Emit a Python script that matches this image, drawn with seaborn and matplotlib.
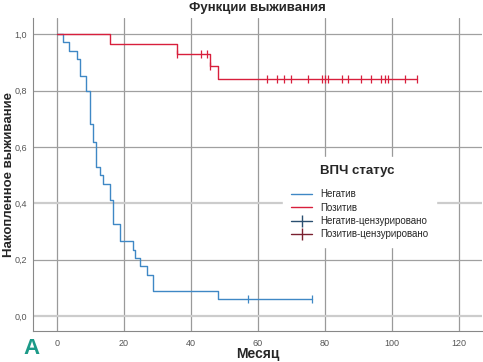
import numpy as np
import pandas as pd
import matplotlib
matplotlib.use('Agg')
import matplotlib.pyplot as plt
import seaborn as sns
from matplotlib.lines import Line2D

# Kaplan-Meier curves
neg_time = [0, 1.8, 3.7, 6.1, 6.9, 8.9, 9.9, 10.9, 11.7, 12.9, 13.9, 15.8, 16.8,
            19.0, 22.8, 23.5, 24.8, 26.9, 28.9, 48.1, 76.1]
neg_surv = [1.0, 0.971, 0.941, 0.912, 0.853, 0.797, 0.680, 0.618, 0.530, 0.501,
            0.470, 0.412, 0.325, 0.265, 0.235, 0.205, 0.176, 0.147, 0.087, 0.059, 0.059]
neg_cens = [57.0, 76.1]

pos_time = [0, 15.9, 35.9, 45.8, 48.1, 107.5]
pos_surv = [1.0, 0.965, 0.930, 0.887, 0.841, 0.841]
pos_cens = [35.9, 43.0, 44.8, 45.8, 62.9, 65.9, 67.9, 69.9, 75.1, 79.1, 80.1, 81.1,
            85.1, 87.0, 91.0, 94.0, 96.9, 98.1, 98.9, 104.1, 107.5]

x_ticks = [0, 20, 40, 60, 80, 100, 120]
y_ticks = [0.0, 0.2, 0.4, 0.6, 0.8, 1.0]
y_labels = ['0,0', '0,2', '0,4', '0,6', '0,8', '1,0']

neg_color = '#3f88c5'
pos_color = '#d81f3c'


def surv_at(times, surv, t):
    idx = np.searchsorted(times, t, side='right') - 1
    return surv[idx]


sns.set_style('white')
plt.rcParams['font.family'] = ['Liberation Sans', 'DejaVu Sans']

fig = plt.figure(figsize=(4.83, 3.62), dpi=100)
ax = fig.add_axes([0.068, 0.086, 0.930, 0.864])

ax.set_xlim(-7.1, 127)
ax.set_ylim(-0.053, 1.057)
ax.set_xticks(x_ticks)
ax.set_yticks(y_ticks)
ax.set_yticklabels(y_labels)
ax.tick_params(length=0, labelsize=6.5, labelcolor='#555555', pad=4)
ax.tick_params(axis='x', pad=6)

for x in x_ticks:
    ax.axvline(x, color='#9a9a9a', lw=0.9, zorder=0)
for y in y_ticks:
    if y in (0.0, 0.4):
        ax.axhline(y, color='#cccccc', lw=1.6, zorder=0)
    else:
        ax.axhline(y, color='#a0a0a0', lw=0.9, zorder=0)

df_neg = pd.DataFrame({'t': neg_time, 's': neg_surv})
df_pos = pd.DataFrame({'t': pos_time, 's': pos_surv})
sns.lineplot(data=df_neg, x='t', y='s', drawstyle='steps-post', color=neg_color,
             lw=1.0, estimator=None, sort=False, ax=ax)
sns.lineplot(data=df_pos, x='t', y='s', drawstyle='steps-post', color=pos_color,
             lw=1.0, estimator=None, sort=False, ax=ax)

cn = pd.DataFrame({'t': neg_cens, 's': [surv_at(neg_time, neg_surv, t) for t in neg_cens]})
cp = pd.DataFrame({'t': pos_cens, 's': [surv_at(pos_time, pos_surv, t) for t in pos_cens]})
sns.scatterplot(data=cn, x='t', y='s', marker='|', s=40, linewidth=0.9, color=neg_color, ax=ax)
sns.scatterplot(data=cp, x='t', y='s', marker='|', s=40, linewidth=0.9, color=pos_color, ax=ax)

for side in ['top', 'right']:
    ax.spines[side].set_visible(False)
for side in ['left', 'bottom']:
    ax.spines[side].set_color('#888888')
    ax.spines[side].set_linewidth(0.8)

ax.set_title('Функции выживания', fontsize=9.5, fontweight='bold', pad=5)
ax.set_xlabel('Месяц', fontsize=10, fontweight='bold')
ax.set_ylabel('Накопленное выживание', fontsize=9.5, fontweight='bold')
ax.xaxis.set_label_coords(0.5, -0.052)
ax.yaxis.set_label_coords(-0.040, 0.5)

handles = [
    Line2D([], [], color=neg_color, lw=1),
    Line2D([], [], color=pos_color, lw=1),
    Line2D([], [], color='#2a4f70', lw=1, marker='|', markersize=9, markevery=[1],
           markeredgewidth=1),
    Line2D([], [], color='#7a2030', lw=1, marker='|', markersize=9, markevery=[1],
           markeredgewidth=1),
]
leg = ax.legend(handles, ['Негатив', 'Позитив', 'Негатив-цензурировано', 'Позитив-цензурировано'],
                title='        ВПЧ статус', loc='upper left', bbox_to_anchor=(0.557, 0.556),
                borderaxespad=0, fontsize=7, title_fontsize=9.5, frameon=True,
                handlelength=2.2, handletextpad=0.8, labelspacing=0.35, borderpad=0.8)
leg.get_frame().set_edgecolor('white')
leg.get_frame().set_facecolor('white')
leg.get_frame().set_alpha(1)
leg.get_title().set_fontweight('bold')
leg._legend_box.align = 'left'
leg._legend_box.sep = 9

fig.text(0.066, 0.038, 'A', fontsize=16, fontweight='bold', color='#1c9a88',
         ha='center', va='center')

fig.savefig('out.png', dpi=100, facecolor='white')
